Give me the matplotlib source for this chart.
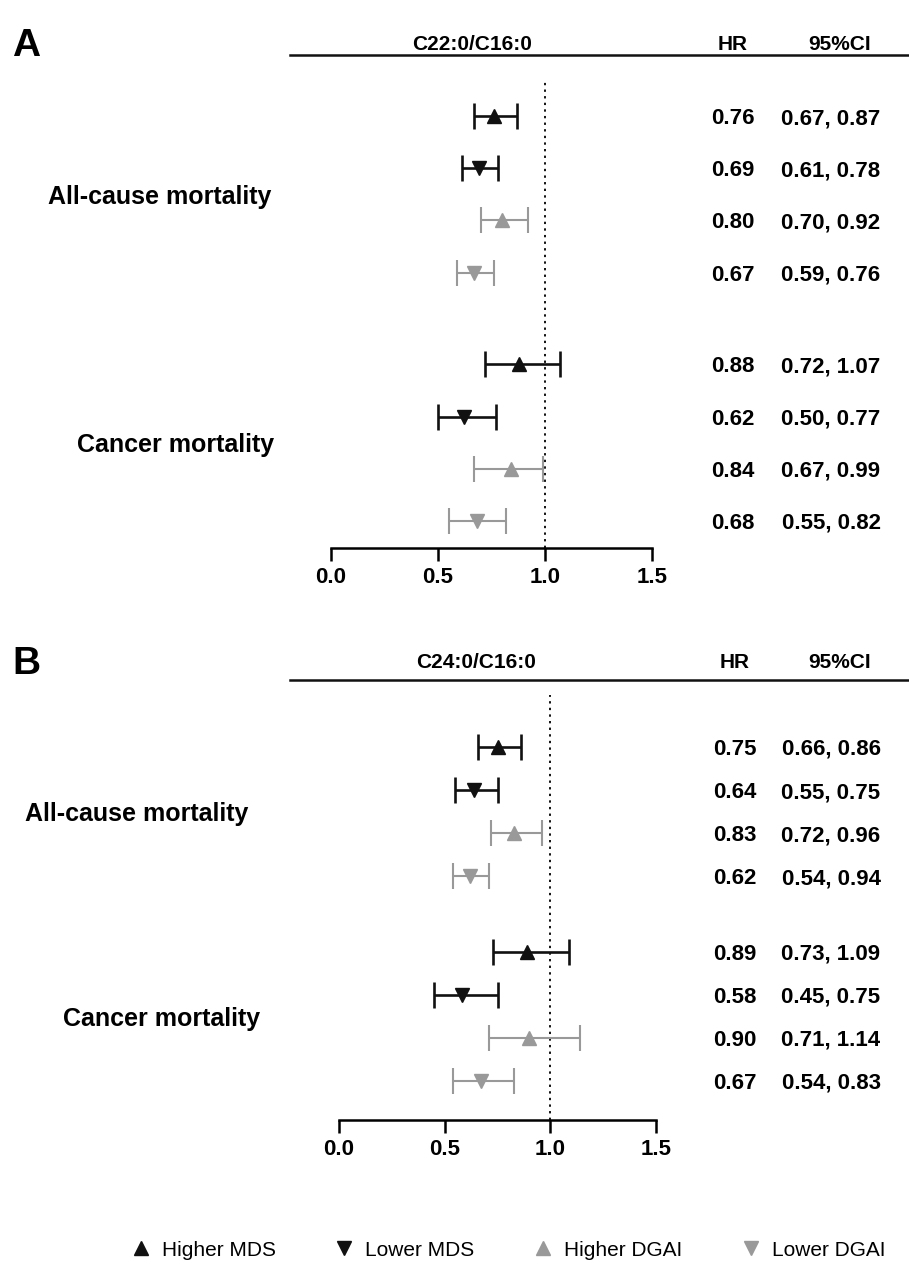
import matplotlib
matplotlib.use('Agg')
import matplotlib.pyplot as plt
from matplotlib.lines import Line2D
from matplotlib.transforms import blended_transform_factory

plt.rcParams['font.family'] = ['Liberation Sans', 'DejaVu Sans']

# data
groups = ['All-cause mortality', 'Cancer mortality']
series = ['Higher MDS', 'Lower MDS', 'Higher DGAI', 'Lower DGAI']

hr_a = [0.76, 0.69, 0.80, 0.67, 0.88, 0.62, 0.84, 0.68]
lo_a = [0.67, 0.61, 0.70, 0.59, 0.72, 0.50, 0.67, 0.55]
hi_a = [0.87, 0.78, 0.92, 0.76, 1.07, 0.77, 0.99, 0.82]
hr_txt_a = ['0.76', '0.69', '0.80', '0.67', '0.88', '0.62', '0.84', '0.68']
ci_txt_a = ['0.67, 0.87', '0.61, 0.78', '0.70, 0.92', '0.59, 0.76',
            '0.72, 1.07', '0.50, 0.77', '0.67, 0.99', '0.55, 0.82']

hr_b = [0.75, 0.64, 0.83, 0.62, 0.89, 0.58, 0.90, 0.67]
lo_b = [0.66, 0.55, 0.72, 0.54, 0.73, 0.45, 0.71, 0.54]
hi_b = [0.86, 0.75, 0.96, 0.71, 1.09, 0.75, 1.14, 0.83]  # drawn bar, not the printed 0.94
hr_txt_b = ['0.75', '0.64', '0.83', '0.62', '0.89', '0.58', '0.90', '0.67']
ci_txt_b = ['0.66, 0.86', '0.55, 0.75', '0.72, 0.96', '0.54, 0.94',
            '0.73, 1.09', '0.45, 0.75', '0.71, 1.14', '0.54, 0.83']

xticks = [0.0, 0.5, 1.0, 1.5]
xtick_labels = ['0.0', '0.5', '1.0', '1.5']

BLACK = '#111111'
GRAY = '#999999'
markers = ['^', 'v', '^', 'v']
colors = [BLACK, BLACK, GRAY, GRAY]

W, H = 909, 1275
fig = plt.figure(figsize=(W / 100, H / 100), dpi=100)


def fx(px):
    return px / W


def fy(py):
    return 1 - py / H


def panel(letter, ratio, hr, lo, hi, hr_txt, ci_txt, box, head_y, line_y,
          title_x, hr_x, ci_x, label_x, gap):
    left, top, right, bottom, row0, rowlast = box
    # row positions: 4 rows per group, gap between groups
    ys = [i for i in range(4)] + [3 + gap + i for i in range(4)]
    unit = (rowlast - row0) / ys[-1]
    ymin = (top - row0) / unit
    ymax = ys[-1] + (bottom - rowlast) / unit
    ax = fig.add_axes([fx(left), fy(bottom), fx(right - left), (bottom - top) / H])
    ax.set_xlim(0, 1.5)
    ax.set_ylim(ymax, ymin)
    ax.axvline(1.0, color=BLACK, ls=(0, (1.2, 2.2)), lw=1.4)
    for i, y in enumerate(ys):
        k = i % 4
        lw = 1.9 if k < 2 else 1.5
        ax.errorbar(hr[i], y, xerr=[[hr[i] - lo[i]], [hi[i] - hr[i]]],
                    fmt=markers[k], color=colors[k], ecolor=colors[k],
                    ms=10, elinewidth=lw, capsize=9.5, capthick=lw)
    for s in ['top', 'right', 'left']:
        ax.spines[s].set_visible(False)
    ax.spines['bottom'].set_linewidth(1.8)
    ax.set_yticks([])
    ax.set_xticks(xticks)
    ax.set_xticklabels(xtick_labels, fontsize=16, fontweight='bold')
    ax.tick_params(axis='x', length=9, width=1.8, pad=5)

    tr = blended_transform_factory(fig.transFigure, ax.transData)
    for i, y in enumerate(ys):
        ax.text(fx(hr_x), y, hr_txt[i], transform=tr, ha='center',
                va='center_baseline', fontsize=16, fontweight='bold')
        ax.text(fx(ci_x), y, ci_txt[i], transform=tr, ha='center',
                va='center_baseline', fontsize=16, fontweight='bold')
    ax.text(fx(label_x[0]), 1.5, groups[0], transform=tr, ha='center',
            va='center_baseline', fontsize=18, fontweight='bold')
    ax.text(fx(label_x[1]), 3 + gap + 1.5, groups[1], transform=tr, ha='center',
            va='center_baseline', fontsize=18, fontweight='bold')

    fig.text(fx(12), fy(head_y), letter, fontsize=28, fontweight='bold',
             ha='left', va='center_baseline')
    fig.text(fx(title_x), fy(head_y), ratio, fontsize=15, fontweight='bold',
             ha='center', va='center_baseline')
    fig.text(fx(hr_x), fy(head_y), 'HR', fontsize=15, fontweight='bold',
             ha='center', va='center_baseline')
    fig.text(fx(840), fy(head_y), '95%CI', fontsize=15, fontweight='bold',
             ha='center', va='center_baseline')
    fig.add_artist(Line2D([fx(290), fx(909)], [fy(line_y), fy(line_y)],
                          color=BLACK, lw=1.8))


panel('A', 'C22:0/C16:0', hr_a, lo_a, hi_a, hr_txt_a, ci_txt_a,
      (331, 80, 652, 548, 116, 521), 42, 55, 472, 733, 831, (160, 176), 1.76)
panel('B', 'C24:0/C16:0', hr_b, lo_b, hi_b, hr_txt_b, ci_txt_b,
      (339, 695, 656, 1120, 747, 1081), 660, 680, 476, 735, 831, (137, 162), 1.75)

handles = [Line2D([], [], ls='none', marker=markers[k], color=colors[k], ms=10)
           for k in range(4)]
fig.legend(handles, series, loc='center', bbox_to_anchor=(fx(508), fy(1250)),
           ncol=4, frameon=False, fontsize=15, handletextpad=0.5,
           columnspacing=2.8, handlelength=1.0)

fig.savefig('out.png', dpi=100)
